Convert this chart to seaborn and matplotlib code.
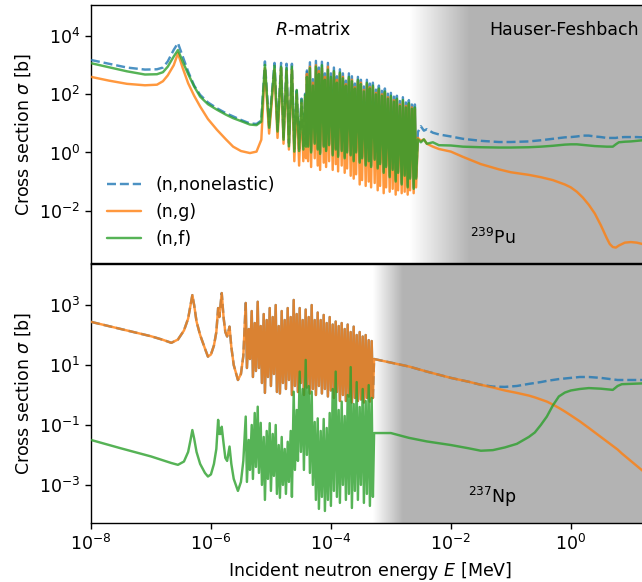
import numpy as np
import pandas as pd
import matplotlib
matplotlib.use("Agg")
import matplotlib.pyplot as plt
import matplotlib.ticker as mticker
from matplotlib.colors import LinearSegmentedColormap
import seaborn as sns

# ---------------- data (log10 E [MeV], log10 sigma [b]) ----------------
# ---- 239Pu ----
pu_lo_logE = [-8.0, -7.7, -7.4, -7.1, -6.9, -6.8, -6.72, -6.62, -6.55, -6.47,
              -6.38, -6.28, -6.18, -6.05, -5.9, -5.75, -5.63, -5.5, -5.35, -5.24, -5.16,
              -5.10, -5.03, -4.94, -4.89, -4.83, -4.79, -4.74, -4.70, -4.65, -4.61,
              -4.57, -4.53, -4.49, -4.46, -4.43, -4.415]
pu_lo_nonel = [3.18, 3.05, 2.92, 2.85, 2.86, 2.92, 3.13, 3.53, 3.76, 3.3,
               2.78, 2.3, 1.98, 1.72, 1.52, 1.35, 1.24, 1.12, 1.0, 0.98, 1.1,
               3.13, 0.92, 3.08, 0.78, 3.08, 0.52, 3.05, 0.32, 3.05, 0.12,
               2.2, 0.12, 1.85, 0.22, 2.02, 0.3]
pu_lo_ng = [2.6, 2.47, 2.36, 2.31, 2.33, 2.45, 2.65, 3.0, 3.41, 2.9,
            2.38, 1.95, 1.58, 1.15, 0.78, 0.45, 0.2, 0.05, -0.02, 0.03, 0.44,
            2.9, 0.65, 2.85, 0.5, 2.9, 0.3, 2.8, 0.1, 2.85, -0.3,
            2.0, -0.45, 1.7, -0.3, 1.9, -0.2]
pu_lo_nf = [3.07, 2.93, 2.79, 2.68, 2.69, 2.76, 2.95, 3.3, 3.52, 3.12,
            2.7, 2.27, 1.92, 1.66, 1.47, 1.3, 1.18, 1.08, 0.96, 0.94, 1.06,
            3.01, 0.85, 2.98, 0.72, 2.95, 0.44, 2.9, 0.21, 2.95, 0.03,
            2.15, 0.05, 1.81, 0.1, 1.98, 0.2]

pu_rr_logE = [-4.40, -4.38, -4.35, -4.33, -4.30, -4.27, -4.25, -4.22, -4.20, -4.18,
              -4.15, -4.12, -4.10, -4.08, -4.05, -4.03, -4.00, -3.97, -3.95, -3.92,
              -3.90, -3.88, -3.85, -3.82, -3.80, -3.77, -3.75, -3.73, -3.70, -3.67,
              -3.65, -3.62, -3.60, -3.58, -3.55, -3.52, -3.50, -3.48, -3.45, -3.42,
              -3.40, -3.37, -3.35, -3.33, -3.30, -3.27, -3.25, -3.22, -3.20, -3.18,
              -3.15, -3.12, -3.10, -3.08, -3.05, -3.02, -3.00, -2.97, -2.95, -2.92,
              -2.90, -2.88, -2.85, -2.82, -2.80, -2.77, -2.75, -2.72, -2.70, -2.68,
              -2.65, -2.62, -2.60, -2.58]
pu_rr_nonel = [2.82, 0.25, 3.1, 0.05, 2.52, 0.35, 3.15, 0.15, 2.92, 0.0,
               3.12, 0.25, 2.72, 0.1, 3.08, 0.3, 2.72, -0.05, 2.92, 0.15,
               2.62, -0.1, 2.86, 0.1, 2.72, -0.15, 2.47, 0.05, 2.72, -0.05,
               2.62, -0.25, 2.37, 0.05, 2.6, -0.3, 2.5, -0.15, 2.27, -0.4,
               2.5, -0.25, 2.37, -0.45, 2.4, -0.2, 2.16, -0.5, 2.3, -0.35,
               2.12, -0.65, 2.2, -0.45, 2.02, -0.8, 2.05, -0.55, 1.92, -0.95,
               1.95, -0.65, 1.77, -1.05, 1.9, -0.75, 1.72, -1.15, 1.8, -0.85,
               1.65, -1.2, 1.65, -0.85]
pu_rr_ng = [2.7, -0.3, 2.95, -0.5, 2.4, -0.2, 3.0, -0.45, 2.8, -0.6,
            2.9, -0.35, 2.6, -0.5, 2.95, -0.3, 2.5, -0.6, 2.75, -0.4,
            2.5, -0.65, 2.7, -0.45, 2.6, -0.7, 2.35, -0.55, 2.55, -0.8,
            2.5, -0.9, 2.25, -0.75, 2.45, -1.1, 2.4, -0.95, 2.15, -1.15,
            2.35, -1.0, 2.25, -1.2, 2.25, -1.05, 2.05, -1.3, 2.15, -1.15,
            2.0, -1.4, 2.05, -1.2, 1.9, -1.35, 1.9, -1.25, 1.8, -1.45,
            1.8, -1.3, 1.65, -1.4, 1.75, -1.35, 1.6, -1.45, 1.65, -1.3,
            1.55, -1.4, 1.5, -1.2]
pu_rr_nf = [2.6, 0.2, 2.9, 0.0, 2.3, 0.3, 2.95, 0.1, 2.7, -0.05,
            3.0, 0.2, 2.5, 0.05, 2.85, 0.25, 2.6, -0.1, 2.8, 0.1,
            2.4, -0.15, 2.75, 0.05, 2.55, -0.2, 2.3, 0.0, 2.6, -0.1,
            2.45, -0.3, 2.2, 0.0, 2.5, -0.35, 2.35, -0.2, 2.1, -0.45,
            2.4, -0.3, 2.2, -0.5, 2.3, -0.25, 2.0, -0.55, 2.2, -0.4,
            1.95, -0.7, 2.1, -0.5, 1.85, -0.85, 1.95, -0.6, 1.75, -1.0,
            1.85, -0.7, 1.6, -1.1, 1.8, -0.8, 1.55, -1.2, 1.7, -0.9,
            1.5, -1.25, 1.55, -0.9]

pu_hi_logE = [-2.55, -2.5, -2.45, -2.4, -2.3, -2.2, -2.0, -1.8, -1.5, -1.2,
              -1.0, -0.7, -0.5, -0.3, -0.1, 0.0, 0.1, 0.2, 0.3, 0.4,
              0.5, 0.6, 0.65, 0.7, 0.75, 0.8, 0.9, 1.0, 1.1, 1.2, 1.3]
pu_hi_nonel = [0.7, 0.9, 0.75, 0.8, 0.68, 0.62, 0.55, 0.47, 0.4, 0.36,
               0.36, 0.38, 0.42, 0.47, 0.52, 0.53, 0.55, 0.58, 0.58, 0.55,
               0.53, 0.5, 0.5, 0.5, 0.5, 0.52, 0.53, 0.53, 0.53, 0.52, 0.52]
pu_hi_ng = [0.5, 0.4, 0.45, 0.3, 0.2, 0.12, 0.03, -0.15, -0.4, -0.58,
            -0.68, -0.77, -0.85, -0.95, -1.1, -1.2, -1.35, -1.55, -1.8, -2.1,
            -2.5, -2.95, -3.15, -3.25, -3.27, -3.2, -3.1, -3.08, -3.1, -3.15, -3.2]
pu_hi_nf = [0.45, 0.35, 0.45, 0.3, 0.35, 0.25, 0.24, 0.2, 0.18, 0.17,
            0.17, 0.18, 0.2, 0.23, 0.27, 0.28, 0.28, 0.26, 0.24, 0.22,
            0.21, 0.2, 0.2, 0.2, 0.28, 0.35, 0.37, 0.38, 0.4, 0.42, 0.43]

# ---- 237Np ----  (below ~50 keV the nonelastic curve coincides with capture)
np_lo_logE = [-8.0, -7.5, -7.0, -6.8, -6.66, -6.55, -6.45, -6.38, -6.34, -6.31,
              -6.28, -6.24, -6.18, -6.1, -6.05, -6.0, -5.95, -5.91, -5.88, -5.86,
              -5.84, -5.82, -5.79, -5.76, -5.73, -5.69, -5.66, -5.62, -5.55, -5.5, -5.46]
np_lo_ng = [2.44, 2.2, 1.96, 1.84, 1.74, 1.85, 2.15, 2.55, 3.0, 3.33,
            3.0, 2.45, 2.0, 1.55, 1.28, 1.35, 1.65, 2.1, 2.9, 2.6,
            3.0, 3.4, 2.6, 2.1, 1.95, 2.28, 1.6, 1.0, 0.5, 0.7, 1.3]
np_lo_nf = [-1.5, -1.78, -2.05, -2.18, -2.27, -2.33, -2.22, -1.9, -1.5, -1.17,
            -1.45, -1.9, -2.3, -2.6, -2.72, -2.65, -2.3, -1.8, -0.83, -1.3,
            -1.3, -1.06, -1.6, -2.1, -2.2, -1.72, -2.3, -2.8, -3.2, -2.9, -2.2]

np_rr_logE = [-5.42, -5.40, -5.37, -5.35, -5.32, -5.30, -5.27, -5.25, -5.22, -5.20,
              -5.17, -5.15, -5.12, -5.10, -5.07, -5.05, -5.02, -5.00, -4.97, -4.95,
              -4.92, -4.90, -4.87, -4.85, -4.82, -4.80, -4.77, -4.75, -4.72, -4.70,
              -4.67, -4.65, -4.62, -4.60, -4.57, -4.55, -4.52, -4.50, -4.47, -4.45,
              -4.42, -4.40, -4.37, -4.35, -4.32, -4.30, -4.27, -4.25, -4.22, -4.20,
              -4.17, -4.15, -4.12, -4.10, -4.07, -4.05, -4.02, -4.00, -3.97, -3.95,
              -3.92, -3.90, -3.87, -3.85, -3.82, -3.80, -3.77, -3.75, -3.72, -3.70,
              -3.67, -3.65, -3.62, -3.60, -3.57, -3.55, -3.52, -3.50, -3.47, -3.45,
              -3.42, -3.40, -3.37, -3.35, -3.32, -3.30]
np_rr_ng = [3.07, 0.9, 2.2, 1.2, 2.8, 0.6, 2.4, 0.8, 3.11, 0.9,
            2.3, 0.4, 2.7, 0.07, 2.5, 0.6, 2.9, 0.3, 2.6, 0.7,
            3.0, 0.1, 2.3, 0.05, 2.8, 0.4, 2.5, 0.2, 2.9, 0.5,
            2.6, 0.0, 3.17, 0.3, 2.7, 0.1, 2.9, 0.4, 2.5, 0.0,
            2.85, 0.25, 2.6, 0.05, 3.0, 0.2, 2.5, 0.0, 2.75, 0.3,
            2.5, 0.05, 2.67, 0.2, 2.4, -0.05, 2.6, 0.15, 2.35, -0.1,
            2.45, 0.1, 2.3, -0.2, 2.4, 0.0, 2.2, -0.2, 2.35, -0.05,
            2.1, -0.25, 2.28, -0.1, 2.0, -0.2, 2.1, -0.15, 1.95, -0.25,
            2.0, -0.1, 1.83, -0.22, 1.8, -0.1]
np_rr_nf = [-0.72, -2.9, -1.5, -2.5, -1.0, -2.8, -0.6, -2.4, -0.39, -2.6,
            -0.93, -3.0, -1.4, -3.5, -1.2, -2.8, -0.94, -3.2, -1.3, -2.7,
            -1.0, -3.3, -1.67, -3.43, -1.4, -3.0, -1.8, -3.3, -1.56, -2.9,
            -1.2, -3.4, 0.11, -2.5, -0.5, -2.2, 0.78, -1.9, 0.2, -2.5,
            1.17, -2.0, 0.3, -2.6, 0.11, -3.0, -0.9, -3.5, -0.78, -3.8,
            -1.2, -3.4, -0.8, -3.87, -1.1, -3.5, -0.6, -3.7, 0.2, -3.2,
            0.78, -3.4, -0.5, -3.6, -0.22, -3.0, -0.7, -3.5, 0.0, -3.3,
            0.93, -3.77, -0.3, -3.2, 0.43, -3.5, -0.4, -3.0, 0.2, -3.6,
            -0.2, -3.3, 0.33, -3.7, -0.1, -3.4]

np_hi_logE = [-3.28, -3.0, -2.7, -2.4, -2.0, -1.7, -1.5, -1.3, -1.1, -0.9,
              -0.7, -0.6, -0.5, -0.4, -0.3, -0.2, -0.1, 0.0, 0.15, 0.3,
              0.5, 0.7, 0.78, 0.85, 1.0, 1.15, 1.3]
np_hi_nonel = [1.2, 1.08, 0.95, 0.78, 0.57, 0.44, 0.34, 0.28, 0.27, 0.3,
               0.37, 0.4, 0.43, 0.47, 0.5, 0.53, 0.55, 0.57, 0.6, 0.6,
               0.57, 0.52, 0.5, 0.5, 0.5, 0.5, 0.5]
np_hi_ng = [1.2, 1.08, 0.95, 0.78, 0.57, 0.44, 0.34, 0.25, 0.15, 0.07,
            -0.02, -0.08, -0.15, -0.22, -0.32, -0.43, -0.55, -0.68, -0.88, -1.1,
            -1.4, -1.7, -1.82, -1.95, -2.2, -2.45, -2.7]
np_hi_nf = [-1.27, -1.27, -1.43, -1.55, -1.67, -1.78, -1.86, -1.84, -1.75, -1.63,
            -1.4, -1.25, -1.0, -0.72, -0.35, -0.05, 0.08, 0.15, 0.2, 0.23,
            0.21, 0.17, 0.3, 0.36, 0.37, 0.38, 0.4]

labels = ["(n,nonelastic)", "(n,g)", "(n,f)"]
x_ticks = [1e-8, 1e-6, 1e-4, 1e-2, 1e0]
pu_yticks = [1e-2, 1e0, 1e2, 1e4]
np_yticks = [1e-3, 1e-1, 1e1, 1e3]


# ---------------- tables ----------------
def table(logE, vals):
    return pd.DataFrame({"E": 10.0 ** np.asarray(logE, float),
                         "sigma": 10.0 ** np.asarray(vals, float)})


def panel(lo, rr, hi):
    """lo/rr/hi = (logE, nonel, ng, nf) for the smooth-low, dense-resonance, smooth-high parts."""
    # nonelastic: dashed outside the dense resonance band, continuous through it
    nonel_pieces = [
        (table(lo[0] + rr[0][:1], lo[1] + rr[1][:1]), "--"),
        (table(rr[0], rr[1]), "-"),
        (table(rr[0][-1:] + hi[0], rr[1][-1:] + hi[1]), "--"),
    ]
    ng = table(lo[0] + rr[0] + hi[0], lo[2] + rr[2] + hi[2])
    nf = table(lo[0] + rr[0] + hi[0], lo[3] + rr[3] + hi[3])
    return nonel_pieces, ng, nf


pu_panel = panel((pu_lo_logE, pu_lo_nonel, pu_lo_ng, pu_lo_nf),
                 (pu_rr_logE, pu_rr_nonel, pu_rr_ng, pu_rr_nf),
                 (pu_hi_logE, pu_hi_nonel, pu_hi_ng, pu_hi_nf))
np_panel = panel((np_lo_logE, np_lo_ng, np_lo_ng, np_lo_nf),
                 (np_rr_logE, np_rr_ng, np_rr_ng, np_rr_nf),
                 (np_hi_logE, np_hi_nonel, np_hi_ng, np_hi_nf))

# ---------------- style ----------------
sns.set_style("ticks")
plt.rcParams.update({
    "font.family": ["DejaVu Sans"],
    "font.size": 12.5,
    "mathtext.fontset": "dejavusans",
    "axes.edgecolor": "black",
    "axes.labelcolor": "black",
    "text.color": "black",
    "xtick.color": "black",
    "ytick.color": "black",
    "axes.linewidth": 1.0,
    "xtick.major.width": 1.0,
    "ytick.major.width": 1.0,
    "xtick.major.size": 4.5,
    "ytick.major.size": 4.5,
    "xtick.labelsize": 12.5,
    "ytick.labelsize": 12.5,
    "axes.labelsize": 12.5,
    "legend.fontsize": 12.5,
})

XLIM = (1e-8, 20.0)
GRAY = "#b3b3b3"
colors = ["#1f77b4", "#ff7f0e", "#2ca02c"]
LW = 1.75

fig = plt.figure(figsize=(6.42, 5.82), dpi=100)
ax1 = fig.add_axes([0.1417, 0.5476, 0.869, 0.4438])
ax2 = fig.add_axes([0.1417, 0.1009, 0.869, 0.445])


def shade(ax, e0, e1):
    lx0, lx1 = np.log10(XLIM)
    f0 = (np.log10(e0) - lx0) / (lx1 - lx0)
    f1 = (np.log10(e1) - lx0) / (lx1 - lx0)
    cmap = LinearSegmentedColormap.from_list("wg", ["white", GRAY])
    ramp = np.linspace(0.0, 1.0, 256)[None, :]
    ax.imshow(ramp, cmap=cmap, aspect="auto", extent=[f0, f1, 0, 1],
              transform=ax.transAxes, zorder=0, interpolation="bilinear")
    ax.axvspan(e1, XLIM[1] * 2, color=GRAY, lw=0, zorder=0)


def draw(ax, pan, ylim, yticks, legend):
    nonel_pieces, ng, nf = pan
    ax.set_xscale("log")
    ax.set_yscale("log")
    ax.set_xlim(*XLIM)
    ax.set_ylim(*ylim)
    ax.set_autoscale_on(False)
    for i, (d, ls) in enumerate(nonel_pieces):
        sns.lineplot(data=d, x="E", y="sigma", ax=ax, color=colors[0], linewidth=LW,
                     alpha=0.8, ls=ls, estimator=None, sort=False,
                     label=labels[0] if (legend and i == 0) else None, legend=False, zorder=3)
    for d, c, lab in ((ng, colors[1], labels[1]), (nf, colors[2], labels[2])):
        sns.lineplot(data=d, x="E", y="sigma", ax=ax, color=c, linewidth=LW, alpha=0.8,
                     estimator=None, sort=False, label=lab if legend else None,
                     legend=False, zorder=3)
    ax.set_xticks(x_ticks)
    ax.set_yticks(yticks)
    ax.xaxis.set_minor_locator(mticker.NullLocator())
    ax.yaxis.set_minor_locator(mticker.NullLocator())
    ax.set_ylabel(r"Cross section $\sigma$ [b]")
    ax.spines["right"].set_visible(False)


shade(ax1, 10 ** -2.68, 10 ** -1.68)
shade(ax2, 10 ** -3.30, 10 ** -2.80)
draw(ax1, pu_panel, (10 ** -3.81, 10 ** 5.07), pu_yticks, True)
draw(ax2, np_panel, (10 ** -4.28, 10 ** 4.36), np_yticks, False)

ax1.tick_params(labelbottom=False)
ax1.set_xlabel("")
ax2.set_xlabel(r"Incident neutron energy $E$ [MeV]")

ax1.legend(loc="lower left", frameon=False)

ax1.text(0.398, 0.905, r"$R$-matrix", transform=ax1.transAxes, ha="center", va="center")
ax1.text(0.713, 0.905, "Hauser-Feshbach", transform=ax1.transAxes, ha="left", va="center")
ax1.text(0.72, 0.10, r"$^{239}$Pu", transform=ax1.transAxes, ha="center", va="center")
ax2.text(0.72, 0.10, r"$^{237}$Np", transform=ax2.transAxes, ha="center", va="center")

fig.savefig("out.png", dpi=100)
